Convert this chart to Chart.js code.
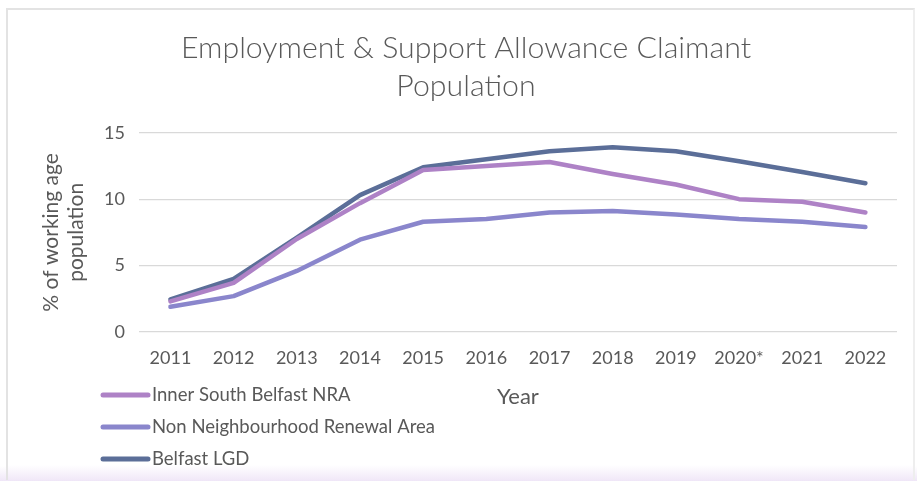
<!DOCTYPE html>
<html>
<head>
<meta charset="utf-8">
<script src="https://cdn.jsdelivr.net/npm/chart.js@4.4.1/dist/chart.umd.min.js"></script>
<style>
  html, body { margin: 0; padding: 0; background: #ffffff; }
  #wrap { position: absolute; left: 0; top: 0; width: 917px; height: 481px; overflow: hidden;
          background: linear-gradient(to bottom, #ffffff 0px, #ffffff 466px, #efe6f7 481px); }
  #frame { position: absolute; left: 6px; top: 8px; width: 905px; height: 470px;
           border-top: 2px solid #e3e3e3; border-left: 2px solid #e3e3e3; border-right: 2px solid #eeeeee;
           background: linear-gradient(to bottom, #ffffff 0px, #ffffff 455px, #f1e8f8 470px); }
  canvas { position: absolute; left: 0; top: 0; }
</style>
</head>
<body>
<div id="wrap"><div id="frame"></div><canvas id="c" width="917" height="481"></canvas></div>
<script>
const years = ["2011","2012","2013","2014","2015","2016","2017","2018","2019","2020*","2021","2022"];
const innerSouthNRA = [2.3, 3.7, 7.0, 9.7, 12.2, 12.5, 12.8, 11.9, 11.1, 10.0, 9.8, 9.0];
const nonNRA = [1.9, 2.7, 4.6, 6.95, 8.3, 8.5, 9.0, 9.1, 8.85, 8.5, 8.3, 7.9];
const belfastLGD = [2.45, 4.0, 7.1, 10.3, 12.4, 13.0, 13.6, 13.9, 13.6, 12.85, 12.05, 11.2];
const seriesNames = ["Inner South Belfast NRA", "Non Neighbourhood Renewal Area", "Belfast LGD"];
const yTicks = [0, 5, 10, 15];
const titleLines = ["Employment & Support Allowance Claimant", "Population"];
const yTitleLines = ["% of working age", "population"];
const xTitle = "Year";

const colors = ["#AE82C6", "#8A86CC", "#5B6E98"];
const textColor = "#595959";
const FONT = "Lato, 'Open Sans', sans-serif";

const vertLegend = {
  id: 'vertLegend',
  afterDraw(chart) {
    const ctx = chart.ctx;
    ctx.save();
    ctx.font = "18.5px " + FONT;
    ctx.fillStyle = textColor;
    ctx.textBaseline = 'middle';
    ctx.textAlign = 'left';
    const x0 = 103, x1 = 148, y0 = 395, dy = 32;
    chart.data.datasets.forEach((ds, i) => {
      const y = y0 + i * dy;
      ctx.strokeStyle = ds.borderColor;
      ctx.lineWidth = 5;
      ctx.lineCap = 'round';
      ctx.beginPath(); ctx.moveTo(x0, y); ctx.lineTo(x1, y); ctx.stroke();
      ctx.fillText(ds.label, 152, y);
    });
    ctx.restore();
  }
};

new Chart(document.getElementById('c'), {
  type: 'line',
  data: {
    labels: years,
    datasets: [
      { label: seriesNames[0], data: innerSouthNRA, borderColor: colors[0], backgroundColor: colors[0] },
      { label: seriesNames[1], data: nonNRA, borderColor: colors[1], backgroundColor: colors[1] },
      { label: seriesNames[2], data: belfastLGD, borderColor: colors[2], backgroundColor: colors[2] }
    ].map(d => Object.assign(d, { borderWidth: 4.5, pointRadius: 0, tension: 0, fill: false,
                                  borderCapStyle: 'round', borderJoinStyle: 'round' }))
  },
  options: {
    responsive: false,
    animation: false,
    devicePixelRatio: 1,
    layout: { padding: { left: 35, right: 20, top: 29, bottom: 71 } },
    plugins: {
      legend: { display: false },
      tooltip: { enabled: false },
      title: {
        display: true, text: titleLines, color: textColor,
        font: { family: FONT, size: 30.3, weight: '300', lineHeight: 1.25 },
        padding: { top: 0, bottom: 28 }
      }
    },
    scales: {
      x: {
        offset: true,
        grid: { display: false, drawTicks: false },
        border: { display: false },
        ticks: { color: textColor, font: { family: FONT, size: 18 }, padding: 15, maxRotation: 0, autoSkip: false },
        title: { display: true, text: xTitle, color: textColor, font: { family: FONT, size: 22 }, padding: { top: 0, bottom: 0 } }
      },
      y: {
        min: 0, max: 15,
        afterBuildTicks(scale) { scale.ticks = yTicks.map(v => ({ value: v })); },
        grid: { color: "#d9d9d9", lineWidth: 1.3, drawTicks: false },
        border: { display: false },
        ticks: { color: textColor, font: { family: FONT, size: 18 }, padding: 14 },
        title: { display: true, text: yTitleLines, color: textColor, font: { family: FONT, size: 21, lineHeight: 1.19 }, padding: { top: 4, bottom: 1 } }
      }
    }
  },
  plugins: [vertLegend]
});
</script>
</body>
</html>
